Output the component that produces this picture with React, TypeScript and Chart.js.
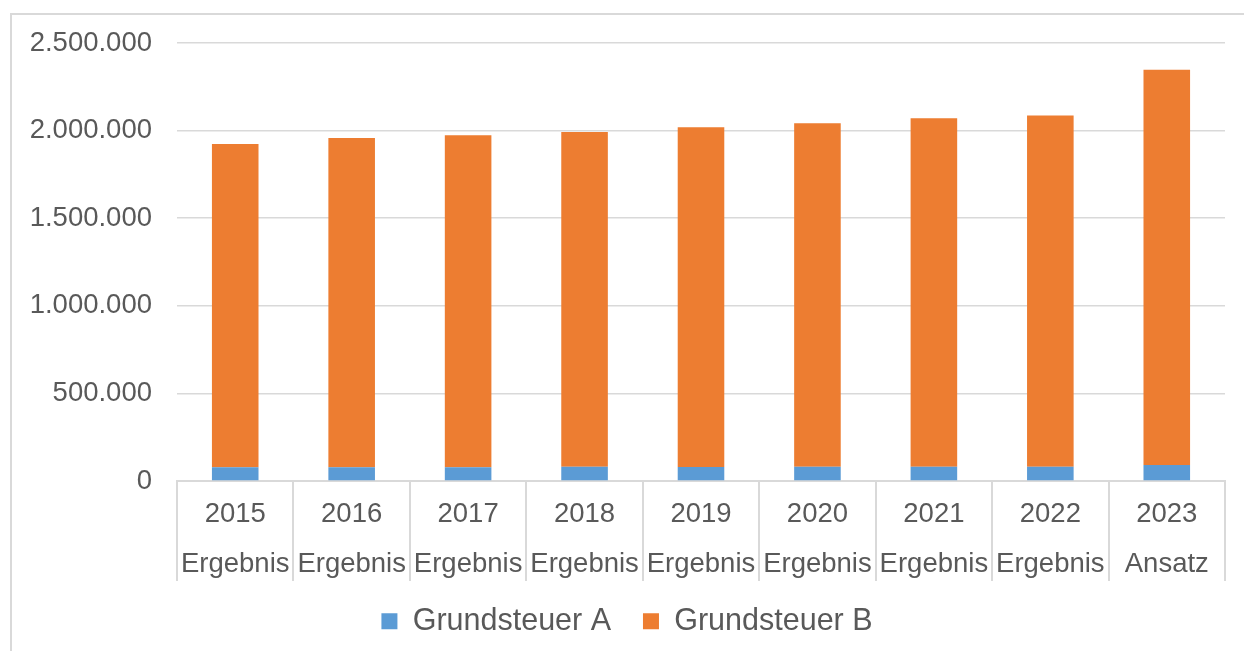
import React, { useEffect, useRef } from "react";
import { Chart, registerables } from "chart.js";

Chart.register(...registerables);

const years = ["2015", "2016", "2017", "2018", "2019", "2020", "2021", "2022", "2023"];
const kinds = ["Ergebnis", "Ergebnis", "Ergebnis", "Ergebnis", "Ergebnis", "Ergebnis", "Ergebnis", "Ergebnis", "Ansatz"];
const grundsteuerA = [79000, 79000, 79000, 81000, 80000, 82000, 82000, 82000, 92000];
const grundsteuerB = [1845000, 1879000, 1895000, 1911000, 1939000, 1960000, 1989000, 2004000, 2255000];
const yTicks = [0, 500000, 1000000, 1500000, 2000000, 2500000];

const FONT = "'Liberation Sans', Arial, sans-serif";
const TEXT = "#595959";
const GRID = "#d9d9d9";

const fmt = (v: number) => v.toLocaleString("de-DE");

const decorPlugin = {
  id: "decor",
  beforeDraw(chart: any) {
    const ctx = chart.ctx;
    ctx.save();
    ctx.fillStyle = "#ffffff";
    ctx.fillRect(0, 0, chart.width, chart.height);
    ctx.strokeStyle = GRID;
    ctx.lineWidth = 2;
    ctx.strokeRect(11, 14, 1400, 800);
    ctx.restore();
  },
  afterDraw(chart: any) {
    const ctx = chart.ctx;
    const xs = chart.scales.x;
    const area = chart.chartArea;
    const n = xs.ticks.length;
    const w = (area.right - area.left) / n;
    ctx.save();
    ctx.strokeStyle = GRID;
    ctx.lineWidth = 2;
    for (let i = 0; i <= n; i++) {
      const x = i < n ? xs.getPixelForValue(i) - w / 2 : xs.getPixelForValue(n - 1) + w / 2;
      ctx.beginPath();
      ctx.moveTo(Math.round(x), area.bottom);
      ctx.lineTo(Math.round(x), area.bottom + 100);
      ctx.stroke();
    }
    ctx.restore();
  },
};

export default function App() {
  const ref = useRef<HTMLCanvasElement | null>(null);
  useEffect(() => {
    if (!ref.current) return;
    const labels = years.map((y, i) => [y, kinds[i]]);
    const defaultLabels = Chart.defaults.plugins.legend.labels.generateLabels;
    const chart = new Chart(ref.current, {
      type: "bar",
      data: {
        labels,
        datasets: [
          { label: "Grundsteuer A", data: grundsteuerA, backgroundColor: "#5B9BD5", categoryPercentage: 0.4, barPercentage: 1 },
          { label: "Grundsteuer B", data: grundsteuerB, backgroundColor: "#ED7D31", categoryPercentage: 0.4, barPercentage: 1 },
        ],
      },
      options: {
        animation: false,
        responsive: false,
        maintainAspectRatio: false,
        layout: { padding: { top: 43, right: 19, left: 29, bottom: 4.5 } },
        plugins: {
          tooltip: { enabled: false },
          legend: {
            position: "bottom",
            labels: {
              color: TEXT,
              font: { family: FONT, size: 30.5 },
              boxWidth: 16,
              boxHeight: 16,
              padding: 15,
              generateLabels: (c: any) =>
                defaultLabels(c).map((l: any, i: number) => ({ ...l, text: i === 0 ? l.text + "  " : l.text })),
            },
          },
        },
        scales: {
          x: {
            stacked: true,
            grid: { display: false, drawTicks: false },
            border: { display: true, color: GRID, width: 2 },
            ticks: {
              color: TEXT,
              font: { family: FONT, size: 27.5, lineHeight: 50 / 27.5 },
              padding: 8,
              maxRotation: 0,
              autoSkip: false,
            },
            afterFit: (s: any) => {
              s.height = 110;
            },
          },
          y: {
            stacked: true,
            min: 0,
            max: 2500000,
            afterBuildTicks: (s: any) => {
              s.ticks = yTicks.map((v) => ({ value: v }));
            },
            grid: { color: GRID, lineWidth: 1.5, drawTicks: false },
            border: { display: false },
            ticks: {
              color: TEXT,
              font: { family: FONT, size: 27.5 },
              padding: 25,
              callback: (v: any) => fmt(Number(v)),
            },
            afterFit: (s: any) => {
              s.width = 148;
            },
          },
        },
      },
      plugins: [decorPlugin],
    });
    return () => chart.destroy();
  }, []);
  return (
    <div style={{ position: "fixed", left: 0, top: 0, width: 1244, height: 651 }}>
      <canvas ref={ref} width={1244} height={651} style={{ width: 1244, height: 651, display: "block" }} />
    </div>
  );
}
